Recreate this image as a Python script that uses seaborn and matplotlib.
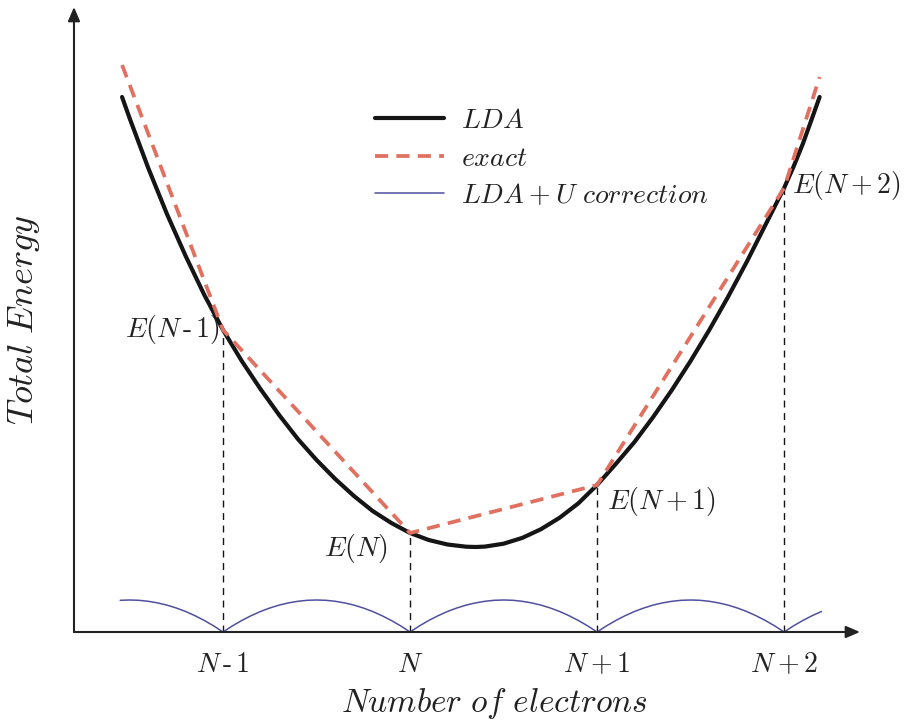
import numpy as np
import pandas as pd
import matplotlib
matplotlib.use("Agg")
import matplotlib.pyplot as plt
import seaborn as sns

# ---- data (x = electron count offset from N, energy in arbitrary units) ----
lda_x = [-1.54, -1.5, -1.4, -1.3, -1.2, -1.1, -1.0, -0.9, -0.8, -0.7, -0.6,
         -0.5, -0.4, -0.3, -0.2, -0.1, 0.0, 0.1, 0.2, 0.3, 0.35, 0.4, 0.5,
         0.6, 0.7, 0.8, 0.9, 1.0, 1.1, 1.2, 1.3, 1.4, 1.5, 1.6, 1.7, 1.8,
         1.9, 2.0, 2.05, 2.1, 2.15, 2.19]
lda_e = [5.35, 5.14, 4.64, 4.18, 3.76, 3.37, 3.02, 2.71, 2.43, 2.17, 1.93,
         1.72, 1.53, 1.36, 1.21, 1.09, 0.99, 0.92, 0.875, 0.853, 0.85, 0.854, 0.883,
         0.941, 1.028, 1.143, 1.287, 1.47, 1.68, 1.90, 2.15, 2.42, 2.71, 3.02, 3.35, 3.70,
         4.07, 4.44, 4.65, 4.88, 5.14, 5.35]

exact_x = [-1.54, -1.0, 0.0, 1.0, 2.0, 2.19]
exact_e = [5.67, 3.02, 0.99, 1.47, 4.44, 5.55]

corr_x = [-1.55, -1.5, -1.45, -1.4, -1.35, -1.3, -1.25, -1.2, -1.15, -1.1, -1.05, -1.0,
          -0.95, -0.9, -0.85, -0.8, -0.75, -0.7, -0.65, -0.6, -0.55, -0.5,
          -0.45, -0.4, -0.35, -0.3, -0.25, -0.2, -0.15, -0.1, -0.05, 0.0,
          0.05, 0.1, 0.15, 0.2, 0.25, 0.3, 0.35, 0.4, 0.45, 0.5,
          0.55, 0.6, 0.65, 0.7, 0.75, 0.8, 0.85, 0.9, 0.95, 1.0,
          1.05, 1.1, 1.15, 1.2, 1.25, 1.3, 1.35, 1.4, 1.45, 1.5,
          1.55, 1.6, 1.65, 1.7, 1.75, 1.8, 1.85, 1.9, 1.95, 2.0,
          2.05, 2.1, 2.15, 2.2]
corr_e = [0.317, 0.32, 0.317, 0.307, 0.291, 0.269, 0.24, 0.205, 0.163, 0.115, 0.061, 0.0,
          0.061, 0.115, 0.163, 0.205, 0.24, 0.269, 0.291, 0.307, 0.317, 0.32,
          0.317, 0.307, 0.291, 0.269, 0.24, 0.205, 0.163, 0.115, 0.061, 0.0,
          0.061, 0.115, 0.163, 0.205, 0.24, 0.269, 0.291, 0.307, 0.317, 0.32,
          0.317, 0.307, 0.291, 0.269, 0.24, 0.205, 0.163, 0.115, 0.061, 0.0,
          0.061, 0.115, 0.163, 0.205, 0.24, 0.269, 0.291, 0.307, 0.317, 0.32,
          0.317, 0.307, 0.291, 0.269, 0.24, 0.205, 0.163, 0.115, 0.061, 0.0,
          0.061, 0.115, 0.163, 0.205]

int_x = [-1, 0, 1, 2]
int_e = [3.02, 0.99, 1.47, 4.44]
tick_labels = [r'$N\,\text{-}\,1$', r'$N$', r'$N+1$', r'$N+2$']
point_labels = [r'$E(N\,\text{-}\,1)$', r'$E(N)$', r'$E(N+1)$', r'$E(N+2)$']
series_names = [r'$LDA$', r'$exact$', r'$LDA+U\ correction$']

# ---- style ----
sns.set_theme(style="white")
plt.rcParams['font.family'] = ['DejaVu Serif']
plt.rcParams['mathtext.fontset'] = 'cm'

FS = 20
RED = '#E07060'
BLUE = '#50509E'
BLACK = '#151515'
TXT = '#222222'

fig = plt.figure(figsize=(9.09, 7.2), dpi=100)
ax = fig.add_axes([74 / 909, 88 / 720, 786 / 909, 625 / 720])
ax.set_xlim(-1.797, 2.406)
ax.set_ylim(0, 6.25)

df_lda = pd.DataFrame({'x': lda_x, 'E': lda_e})
df_exact = pd.DataFrame({'x': exact_x, 'E': exact_e})
df_corr = pd.DataFrame({'x': corr_x, 'E': corr_e})

# vertical dashed guides
ax.vlines(int_x, 0, int_e, colors=BLACK, linestyles=(0, (5, 4)), linewidth=1.0, zorder=1)

sns.lineplot(data=df_lda, x='x', y='E', ax=ax, color=BLACK, linewidth=3.0,
             label=series_names[0], zorder=3, sort=False, estimator=None)
sns.lineplot(data=df_exact, x='x', y='E', ax=ax, color=RED, linewidth=2.7,
             linestyle=(0, (3.5, 2.2)), label=series_names[1], zorder=4,
             sort=False, estimator=None)
sns.lineplot(data=df_corr, x='x', y='E', ax=ax, color=BLUE, linewidth=1.1,
             label=series_names[2], zorder=2, sort=False, estimator=None)

# point labels
offsets = [(-2, 0, 'right', 'center'), (-16, -11, 'right', 'center'),
           (7, -12, 'left', 'center'), (6, 2, 'left', 'center')]
for xv, ev, lab, (dx, dy, ha, va) in zip(int_x, int_e, point_labels, offsets):
    ax.annotate(lab, xy=(xv, ev), xytext=(dx, dy), textcoords='offset points',
                ha=ha, va=va, fontsize=FS, color=TXT)

# axes with arrows
for s in ax.spines.values():
    s.set_visible(False)
ax.annotate('', xy=(1.0, 0), xytext=(0, 0), xycoords='axes fraction',
            arrowprops=dict(arrowstyle='-|>,head_length=0.7,head_width=0.3',
                            color=TXT, lw=1.5, shrinkA=0, shrinkB=0))
ax.annotate('', xy=(0, 1.0), xytext=(0, 0), xycoords='axes fraction',
            arrowprops=dict(arrowstyle='-|>,head_length=0.7,head_width=0.3',
                            color=TXT, lw=1.5, shrinkA=0, shrinkB=0))

ax.set_xticks(int_x)
ax.set_xticklabels(tick_labels, fontsize=FS, color=TXT)
ax.set_yticks([])
ax.tick_params(axis='x', length=0, pad=14)

ax.set_xlabel(r'$Number\ of\ electrons$', fontsize=24, color=TXT)
ax.set_ylabel(r'$Total\ Energy$', fontsize=26, color=TXT)
ax.xaxis.set_label_coords((494 - 74) / 786, (632 - 686) / 625)
ax.yaxis.set_label_coords((42 - 74) / 786, (632 - 320) / 625)

leg = ax.legend(loc='upper left', bbox_to_anchor=((375 - 74) / 786, (632 - 107) / 625),
                frameon=False, fontsize=FS, handlelength=2.5, handletextpad=0.6,
                labelspacing=0.38, borderpad=0, borderaxespad=0)
for t in leg.get_texts():
    t.set_color(TXT)

fig.savefig('out.png', dpi=100, facecolor='white')
